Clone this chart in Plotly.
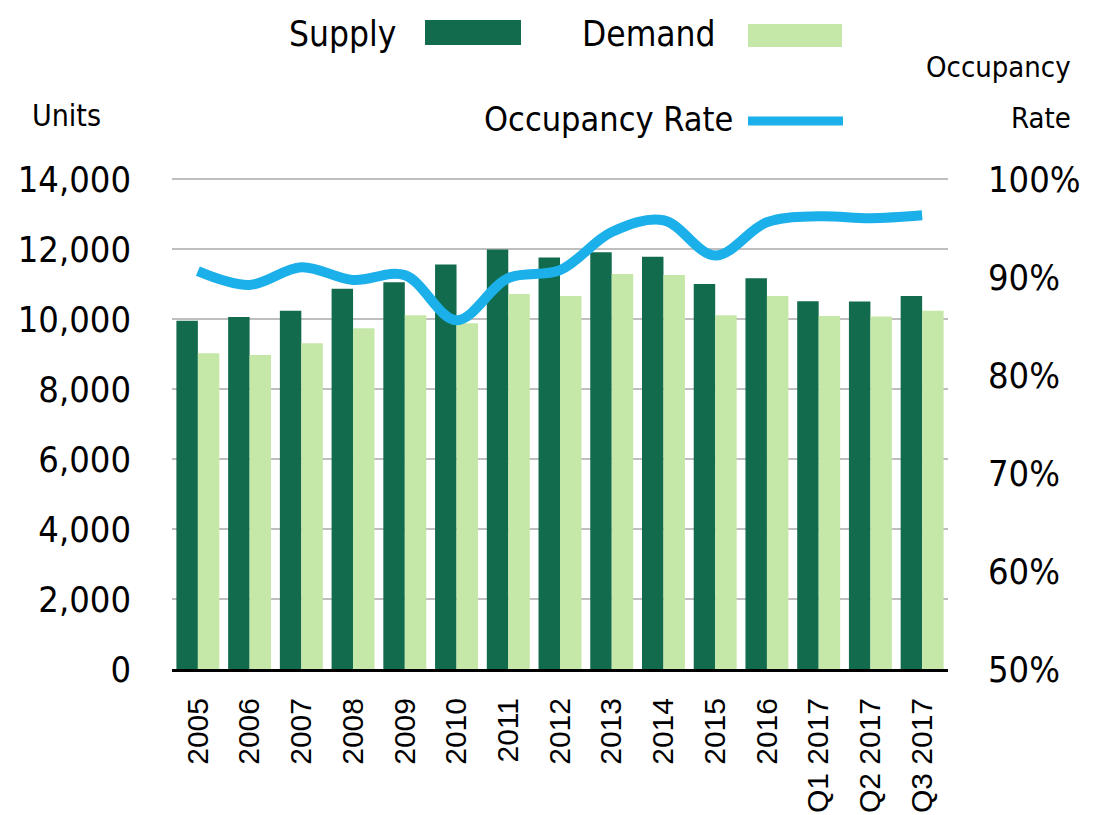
import plotly.graph_objects as go

categories = ["2005", "2006", "2007", "2008", "2009", "2010", "2011", "2012",
              "2013", "2014", "2015", "2016", "Q1 2017", "Q2 2017", "Q3 2017"]
supply = [9950, 10060, 10240, 10870, 11050, 11560, 11990, 11760,
          11910, 11780, 11000, 11170, 10510, 10500, 10660]
demand = [9020, 8970, 9310, 9740, 10110, 9880, 10720, 10660,
          11290, 11260, 10110, 10660, 10090, 10070, 10240]
occupancy = [0.906, 0.892, 0.910, 0.897, 0.902, 0.856, 0.899, 0.907,
             0.946, 0.958, 0.922, 0.956, 0.962, 0.960, 0.963]

left_ticks = [0, 2000, 4000, 6000, 8000, 10000, 12000, 14000]
right_ticks = [0.5, 0.6, 0.7, 0.8, 0.9, 1.0]

COND = "DejaVu Sans Condensed, Liberation Sans Narrow, Arial Narrow, sans-serif"
SUPPLY_C = "#116b4c"
DEMAND_C = "#c5e7a7"
OCC_C = "#1bb0ea"

Y1_MAX = 14060
Y2_MAX = 0.5 + 0.5 * Y1_MAX / 14000

W, H = 1114, 815
OFF = 8  # page body margin
ML, MR, MT, MB = 164, 174, 169, 154

fig = go.Figure()
fig.add_trace(go.Bar(x=categories, y=supply, name="Supply", marker_color=SUPPLY_C,
                     marker_line_width=0, showlegend=False))
fig.add_trace(go.Bar(x=categories, y=demand, name="Demand", marker_color=DEMAND_C,
                     marker_line_width=0, showlegend=False))
fig.add_trace(go.Scatter(x=categories, y=occupancy, name="Occupancy Rate", yaxis="y2",
                         mode="lines", line=dict(color=OCC_C, width=10, shape="spline", smoothing=1.0),
                         showlegend=False))

fig.update_layout(
    width=W, height=H,
    margin=dict(l=ML, r=MR, t=MT, b=MB, autoexpand=False),
    paper_bgcolor="white", plot_bgcolor="white",
    barmode="group", bargap=0.17, bargroupgap=0,
    xaxis=dict(showgrid=False, showline=True, linecolor="black", linewidth=3,
               tickangle=-90, ticks="", ticklabelstandoff=14, automargin=False,
               tickfont=dict(family="Liberation Sans, Arial, sans-serif", size=30, color="black")),
    yaxis=dict(range=[0, Y1_MAX], tickvals=left_ticks, tickformat=",d", automargin=False,
               showgrid=True, gridcolor="#bfbfbf", gridwidth=2, zeroline=False,
               showline=False, ticks="", ticklabelstandoff=40,
               tickfont=dict(family=COND, size=36, color="black")),
    yaxis2=dict(range=[0.5, Y2_MAX], tickvals=right_ticks, tickformat=".0%", automargin=False,
                overlaying="y", side="right", showgrid=False, zeroline=False,
                showline=False, ticks="", ticklabelstandoff=39,
                tickfont=dict(family=COND, size=36, color="black")),
    font=dict(family=COND, color="black"),
)

def px_x(x):
    return (x - OFF - ML) / (W - ML - MR)

def px_y(y):
    return (H - MB - (y - OFF)) / (H - MT - MB)

ann = [
    dict(text="Supply", x=398, y=34, xanchor="right", size=35),
    dict(text="Demand", x=718, y=34, xanchor="right", size=35),
    dict(text="Occupancy Rate", x=735, y=119, xanchor="right", size=34),
    dict(text="Units", x=30, y=115, xanchor="left", size=30),
    dict(text="Occupancy", x=1073, y=67, xanchor="right", size=29),
    dict(text="Rate", x=1073, y=118, xanchor="right", size=29),
]
for a in ann:
    fig.add_annotation(text=a["text"], xref="paper", yref="paper",
                       x=px_x(a["x"]), y=px_y(a["y"]),
                       xanchor=a["xanchor"], yanchor="middle", showarrow=False,
                       font=dict(family=COND, size=a["size"], color="black"))

fig.add_shape(type="rect", xref="paper", yref="paper", x0=px_x(425), x1=px_x(521),
              y0=px_y(45), y1=px_y(20), fillcolor=SUPPLY_C, line_width=0)
fig.add_shape(type="rect", xref="paper", yref="paper", x0=px_x(748), x1=px_x(842),
              y0=px_y(47), y1=px_y(24), fillcolor=DEMAND_C, line_width=0)
fig.add_shape(type="line", xref="paper", yref="paper", x0=px_x(748), x1=px_x(843),
              y0=px_y(121), y1=px_y(121), line=dict(color=OCC_C, width=9))

fig.write_html("out.html")
